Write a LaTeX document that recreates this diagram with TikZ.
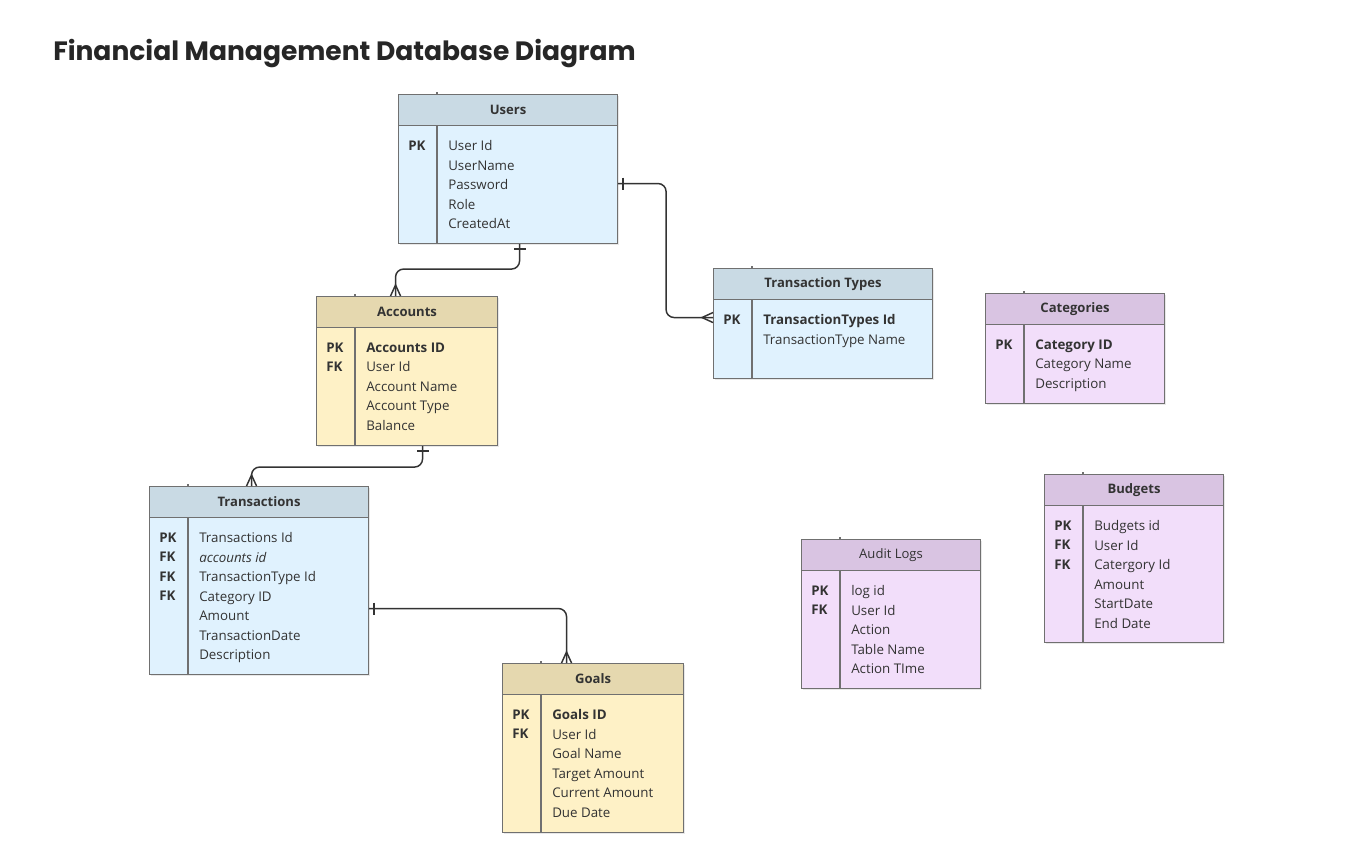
\documentclass[tikz,border=0pt]{standalone}
\usepackage{fontspec}
\setmainfont{Open Sans}
\newfontfamily\titlefont{Poppins}
\usetikzlibrary{positioning}
\usetikzlibrary{calc,shadows}

\definecolor{bluehead}{HTML}{C9DAE4}
\definecolor{bluebody}{HTML}{E0F2FE}
\definecolor{yellowhead}{HTML}{E5D8AF}
\definecolor{yellowbody}{HTML}{FEF1C6}
\definecolor{purplehead}{HTML}{D9C4E2}
\definecolor{purplebody}{HTML}{F2DEFA}
\definecolor{edge}{HTML}{707070}
\definecolor{txt}{HTML}{333333}

\tikzset{
  tbl/.style={draw=edge, line width=0.8pt, anchor=north west, inner sep=0pt,
    drop shadow={opacity=0.18, shadow xshift=1.2pt, shadow yshift=-1.2pt}},
  head/.style={draw=edge, line width=0.8pt, anchor=north west, inner sep=0pt,
    minimum height=23.25pt, text=txt, font=\fontsize{9.8}{11}\selectfont\bfseries},
  sep/.style={draw=edge, line width=0.8pt},
  fields/.style={anchor=north west, align=left, inner sep=0pt, text=txt,
    font=\fontsize{10}{14.6}\selectfont},
  keys/.style={fields, font=\fontsize{10}{14.6}\selectfont\bfseries},
  rel/.style={draw=txt, line width=1.1pt, rounded corners=6pt},
  crowfoot/.pic={\draw[draw=txt, line width=1.1pt] (-3.75pt,0pt) -- (0pt,8.25pt) -- (3.75pt,0pt);},
  onetick/.pic={\draw[draw=txt, line width=1.1pt] (-4.5pt,3.75pt) -- (4.5pt,3.75pt);}
}

\begin{document}
\begin{tikzpicture}[x=0.75pt,y=-0.75pt]
 \fill[white] (0,0) rectangle (1363,846);
 \useasboundingbox (0,0) rectangle (1363,846);

 % title
 \node[anchor=base west, inner sep=0pt, text=black!85, font=\titlefont\bfseries\fontsize{19.9}{24}\selectfont] (title) at (53,60) {Financial Management Database Diagram};

 % Users
 \node[tbl, fill=bluebody, minimum width=164.25pt, minimum height=111.75pt] (users) at (398,94) {};
 \node[head, fill=bluehead, minimum width=164.25pt] (usersH) at (users.north west) {Users};
 \draw[sep] ([xshift=29.25pt]usersH.south west) -- ([xshift=29.25pt]users.south west);
 \draw[sep] ([xshift=29.25pt]users.north west) -- ++(0,-2.5);
 \node[keys] at ($(usersH.south west)+(10,14.5)$) {PK};
 \node[fields] at ($(usersH.south west)+(50,14.5)$) {User Id\\UserName\\Password\\Role\\CreatedAt};

 % Transaction Types
 \node[tbl, fill=bluebody, minimum width=164.25pt, minimum height=82.5pt] (ttypes) at (713,268) {};
 \node[head, fill=bluehead, minimum width=164.25pt] (ttypesH) at (ttypes.north west) {Transaction Types};
 \draw[sep] ([xshift=29.25pt]ttypesH.south west) -- ([xshift=29.25pt]ttypes.south west);
 \draw[sep] ([xshift=29.25pt]ttypes.north west) -- ++(0,-2.5);
 \node[keys] at ($(ttypesH.south west)+(10,14.5)$) {PK};
 \node[fields] at ($(ttypesH.south west)+(50,14.5)$) {\textbf{TransactionTypes Id}\\TransactionType Name};

 % Accounts
 \node[tbl, fill=yellowbody, minimum width=135.75pt, minimum height=111.75pt] (accounts) at (316,296) {};
 \node[head, fill=yellowhead, minimum width=135.75pt] (accountsH) at (accounts.north west) {Accounts};
 \draw[sep] ([xshift=29.25pt]accountsH.south west) -- ([xshift=29.25pt]accounts.south west);
 \draw[sep] ([xshift=29.25pt]accounts.north west) -- ++(0,-2.5);
 \node[keys] at ($(accountsH.south west)+(10,14.5)$) {PK\\FK};
 \node[fields] at ($(accountsH.south west)+(50,14.5)$) {\textbf{Accounts ID}\\User Id\\Account Name\\Account Type\\Balance};

 % Categories
 \node[tbl, fill=purplebody, minimum width=134.25pt, minimum height=82.5pt] (categories) at (985,293) {};
 \node[head, fill=purplehead, minimum width=134.25pt] (categoriesH) at (categories.north west) {Categories};
 \draw[sep] ([xshift=29.25pt]categoriesH.south west) -- ([xshift=29.25pt]categories.south west);
 \draw[sep] ([xshift=29.25pt]categories.north west) -- ++(0,-2.5);
 \node[keys] at ($(categoriesH.south west)+(10,14.5)$) {PK};
 \node[fields] at ($(categoriesH.south west)+(50,14.5)$) {\textbf{Category ID}\\Category Name\\Description};

 % Transactions
 \node[tbl, fill=bluebody, minimum width=164.25pt, minimum height=141pt] (trans) at (149,486) {};
 \node[head, fill=bluehead, minimum width=164.25pt] (transH) at (trans.north west) {Transactions};
 \draw[sep] ([xshift=29.25pt]transH.south west) -- ([xshift=29.25pt]trans.south west);
 \draw[sep] ([xshift=29.25pt]trans.north west) -- ++(0,-2.5);
 \node[keys] at ($(transH.south west)+(10,14.5)$) {PK\\FK\\FK\\FK};
 \node[fields] at ($(transH.south west)+(50,14.5)$) {Transactions Id\\\textit{accounts id}\\TransactionType Id\\Category ID\\Amount\\TransactionDate\\Description};

 % Goals
 \node[tbl, fill=yellowbody, minimum width=135.75pt, minimum height=126.75pt] (goals) at (502,663) {};
 \node[head, fill=yellowhead, minimum width=135.75pt] (goalsH) at (goals.north west) {Goals};
 \draw[sep] ([xshift=29.25pt]goalsH.south west) -- ([xshift=29.25pt]goals.south west);
 \draw[sep] ([xshift=29.25pt]goals.north west) -- ++(0,-2.5);
 \node[keys] at ($(goalsH.south west)+(10,14.5)$) {PK\\FK};
 \node[fields] at ($(goalsH.south west)+(50,14.5)$) {\textbf{Goals ID}\\User Id\\Goal Name\\Target Amount\\Current Amount\\Due Date};

 % Audit Logs
 \node[tbl, fill=purplebody, minimum width=134.25pt, minimum height=111.75pt] (audit) at (801,539) {};
 \node[head, fill=purplehead, minimum width=134.25pt, font=\fontsize{9.8}{11}\selectfont] (auditH) at (audit.north west) {Audit Logs};
 \draw[sep] ([xshift=29.25pt]auditH.south west) -- ([xshift=29.25pt]audit.south west);
 \draw[sep] ([xshift=29.25pt]audit.north west) -- ++(0,-2.5);
 \node[keys] at ($(auditH.south west)+(10,14.5)$) {PK\\FK};
 \node[fields] at ($(auditH.south west)+(50,14.5)$) {log id\\User Id\\Action\\Table Name\\Action TIme};

 % Budgets
 \node[tbl, fill=purplebody, minimum width=134.25pt, minimum height=126pt] (budgets) at (1044,474) {};
 \node[head, fill=purplehead, minimum width=134.25pt] (budgetsH) at (budgets.north west) {Budgets};
 \draw[sep] ([xshift=29.25pt]budgetsH.south west) -- ([xshift=29.25pt]budgets.south west);
 \draw[sep] ([xshift=29.25pt]budgets.north west) -- ++(0,-2.5);
 \node[keys] at ($(budgetsH.south west)+(10,14.5)$) {PK\\FK\\FK};
 \node[fields] at ($(budgetsH.south west)+(50,14.5)$) {Budgets id\\User Id\\Catergory Id\\Amount\\StartDate\\End Date};

 % relations
 \coordinate (uA) at ([xshift=8.625pt]users.south);
 \coordinate (aU) at ([xshift=-8.625pt]accounts.north);
 \draw[rel] (uA) -- ++(0,25) -| (aU);
 \pic[rotate=180] at (uA) {onetick};
 \pic at (aU) {crowfoot};

 \coordinate (uT) at ([yshift=-10.875pt]users.east);
 \coordinate (tU) at ([yshift=4.5pt]ttypes.west);
 \draw[rel] (uT) -- ++(48,0) |- (tU);
 \pic[rotate=-90] at (uT) {onetick};
 \pic[rotate=90] at (tU) {crowfoot};

 \coordinate (aT) at ([xshift=11.625pt]accounts.south);
 \coordinate (tA) at ([xshift=-5.625pt]trans.north);
 \draw[rel] (aT) -- ++(0,21) -| (tA);
 \pic[rotate=180] at (aT) {onetick};
 \pic at (tA) {crowfoot};

 \coordinate (tG) at ([yshift=-21pt]trans.east);
 \coordinate (gT) at ([xshift=-19.875pt]goals.north);
 \draw[rel] (tG) -| (gT);
 \pic[rotate=-90] at (tG) {onetick};
 \pic at (gT) {crowfoot};
\end{tikzpicture}
\end{document}
